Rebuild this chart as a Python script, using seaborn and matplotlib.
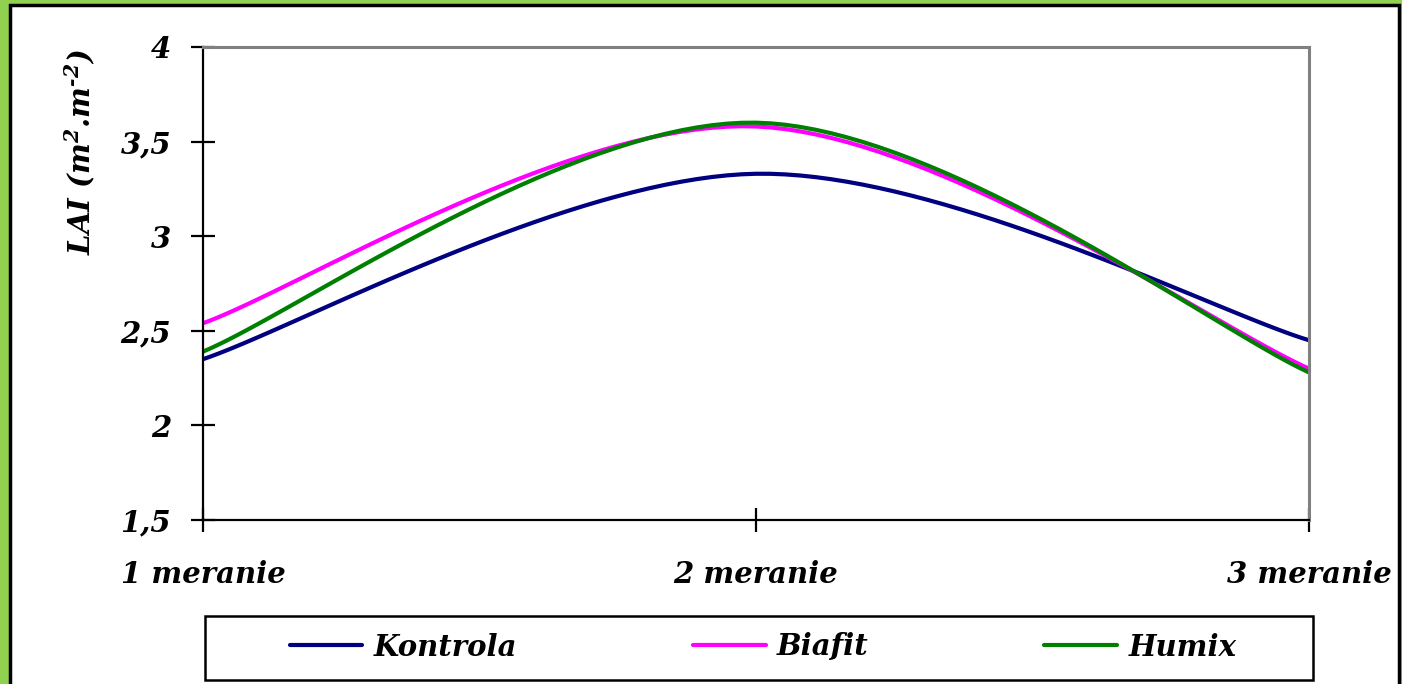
import numpy as np
import pandas as pd
import seaborn as sns
import matplotlib
matplotlib.use("Agg")
import matplotlib.pyplot as plt
from matplotlib.patches import Rectangle
from matplotlib.lines import Line2D

# LAI measurements for three treatments over three sampling dates
categories = ["1 meranie", "2 meranie", "3 meranie"]
kontrola = [2.35, 3.33, 2.45]
biafit = [2.54, 3.58, 2.30]
humix = [2.39, 3.60, 2.28]
series_names = ["Kontrola", "Biafit", "Humix"]
series_colors = ["#000080", "#FF00FF", "#008000"]
y_ticks = [1.5, 2, 2.5, 3, 3.5, 4]
y_tick_labels = ["1,5", "2", "2,5", "3", "3,5", "4"]

sns.set_style("white")
plt.rcParams["font.family"] = ["DejaVu Serif"]
plt.rcParams["font.weight"] = "bold"
plt.rcParams["font.style"] = "italic"
plt.rcParams["text.color"] = "black"
plt.rcParams["xtick.color"] = "black"
plt.rcParams["ytick.color"] = "black"
plt.rcParams["mathtext.fontset"] = "custom"
plt.rcParams["mathtext.rm"] = "DejaVu Serif:italic:bold"
plt.rcParams["mathtext.it"] = "DejaVu Serif:italic:bold"
plt.rcParams["mathtext.bf"] = "DejaVu Serif:italic:bold"
plt.rcParams["mathtext.default"] = "rm"

FS = 21


def smooth_curve(xs, ys, n=40):
    """Cardinal (Catmull-Rom) Bezier smoothing through the given points."""
    pts = np.column_stack([xs, ys]).astype(float)
    out = []
    m = len(pts)
    for i in range(m - 1):
        p0 = pts[i]
        p1 = pts[i + 1]
        prev = pts[i - 1] if i > 0 else pts[i]
        nxt = pts[i + 2] if i + 2 < m else pts[i + 1]
        c1 = p0 + (p1 - prev) / 6.0
        c2 = p1 - (nxt - p0) / 6.0
        t = np.linspace(0, 1, n)[:, None]
        seg = ((1 - t) ** 3) * p0 + 3 * ((1 - t) ** 2) * t * c1 + 3 * (1 - t) * t ** 2 * c2 + t ** 3 * p1
        out.append(seg if i == 0 else seg[1:])
    res = np.vstack(out)
    return res[:, 0], res[:, 1]


xpos = np.arange(len(categories))
frames = []
for name, vals in zip(series_names, [kontrola, biafit, humix]):
    sx, sy = smooth_curve(xpos, vals)
    frames.append(pd.DataFrame({"x": sx, "y": sy, "series": name}))
df = pd.concat(frames, ignore_index=True)

W, H = 1402, 684
fig = plt.figure(figsize=(W / 100, H / 100), dpi=100)
fig.patch.set_facecolor("#92D050")

# white chart panel with black border
panel = Rectangle((10 / W, -0.05), 1389 / W, 1 - 5 / H + 0.05,
                  transform=fig.transFigure, facecolor="white",
                  edgecolor="black", linewidth=2.5, zorder=-10)
fig.patches.append(panel)

ax = fig.add_axes([203 / W, 1 - 520 / H, (1309 - 203) / W, (520 - 47) / H])
ax.set_zorder(1)
ax.set_facecolor("white")

sns.lineplot(data=df, x="x", y="y", hue="series", palette=series_colors,
             hue_order=series_names, estimator=None, sort=False,
             linewidth=3.0, ax=ax, legend=False)

ax.set_xlim(0, 2)
ax.set_ylim(1.5, 4)
ax.set_xticks(xpos)
ax.set_xticklabels(categories)
ax.set_yticks(y_ticks)
ax.set_yticklabels(y_tick_labels)
ax.set_xlabel("")
ax.set_ylabel("")

for side in ["left", "bottom"]:
    ax.spines[side].set_color("black")
    ax.spines[side].set_linewidth(1.6)
for side in ["top", "right"]:
    ax.spines[side].set_visible(True)
    ax.spines[side].set_color("#808080")
    ax.spines[side].set_linewidth(2.2)

ax.tick_params(axis="both", direction="inout", length=17, width=1.6, color="black",
               labelsize=FS, labelcolor="black", bottom=True, left=True,
               top=False, right=False)
ax.tick_params(axis="y", pad=14.5)
ax.tick_params(axis="x", pad=20)
for lbl in ax.get_xticklabels() + ax.get_yticklabels():
    lbl.set_fontweight("bold")
    lbl.set_fontstyle("italic")

fig.text(80 / W, 1 - 152 / H, "LAI (m$^{2}$.m$^{\u20102}$)", rotation=90,
         ha="center", va="center", fontsize=FS, fontweight="bold", fontstyle="italic",
         color="black")

# legend frame spanning the plot width
fig.patches.append(Rectangle((205 / W, 1 - 680 / H), (1313 - 205) / W, 64 / H,
                             transform=fig.transFigure, facecolor="white",
                             edgecolor="black", linewidth=1.8, zorder=2))
handles = [Line2D([0], [0], color=c, lw=3.0) for c in series_colors]
leg = fig.legend(handles, series_names, ncol=3, loc="center",
                 bbox_to_anchor=(763 / W, 1 - 647 / H),
                 frameon=False, fontsize=FS,
                 handlelength=2.5, handletextpad=0.4, columnspacing=6.0,
                 borderaxespad=0)
leg.set_zorder(3)
for t in leg.get_texts():
    t.set_fontweight("bold")
    t.set_fontstyle("italic")
    t.set_color("black")

fig.savefig("out.png", dpi=100, facecolor=fig.get_facecolor())
